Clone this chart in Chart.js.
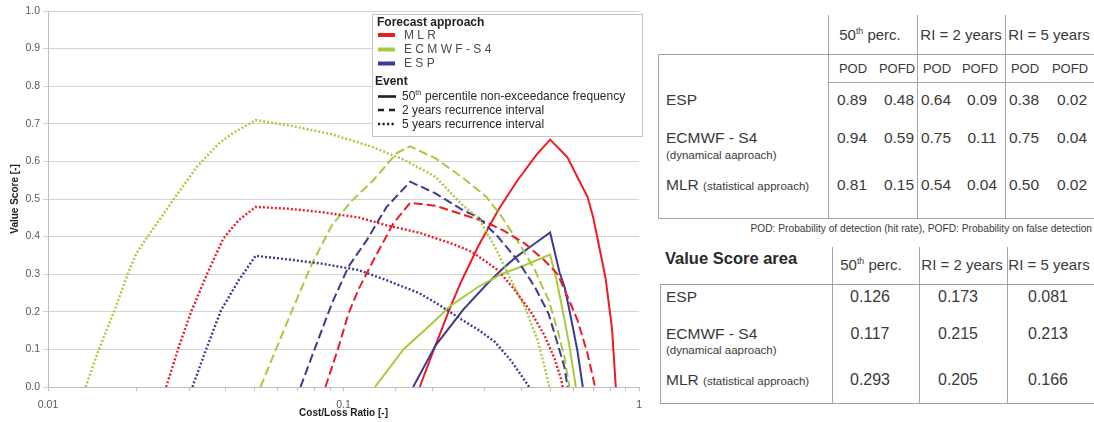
<!DOCTYPE html>
<html>
<head>
<meta charset="utf-8">
<script src="https://cdn.jsdelivr.net/npm/chart.js@4.4.1/dist/chart.umd.min.js"></script>
<style>
  html, body { margin: 0; padding: 0; background: #fff; }
  #wrap { position: relative; width: 1094px; height: 422px; overflow: hidden; background: #fff;
          font-family: "Liberation Sans", Arial, sans-serif; color: #3a3a3a; }
  #chart { position: absolute; left: 0; top: 0; }
  .t { position: absolute; white-space: nowrap; line-height: 1; }
  .hl { position: absolute; height: 0; border-top: 1px solid #a3a3a3; }
  .vl { position: absolute; width: 0; border-left: 1px solid #a3a3a3; }
  sup { font-size: 58%; vertical-align: 0; position: relative; top: -0.65em; }
</style>
</head>
<body>
<div id="wrap"><canvas id="chart" width="650" height="422"></canvas></div>
<script>
// ---- Value score curves (cost/loss ratio -> value score) ----
// 50th percentile non-exceedance frequency
const ratioMLR50   = [0.181, 0.2, 0.229, 0.25, 0.285, 0.3335, 0.388, 0.45, 0.5, 0.55, 0.573, 0.619, 0.669, 0.70, 0.77, 0.81, 0.834];
const valueMLR50   = [0, 0.09, 0.21, 0.28, 0.373, 0.47, 0.55, 0.618, 0.658, 0.625, 0.61, 0.558, 0.506, 0.45, 0.29, 0.155, 0];
const ratioECMWF50 = [0.1277, 0.1594, 0.2, 0.229, 0.285, 0.346, 0.4, 0.45, 0.5, 0.524, 0.551, 0.581, 0.611];
const valueECMWF50 = [0, 0.10, 0.17, 0.215, 0.266, 0.302, 0.32, 0.337, 0.352, 0.29, 0.205, 0.11, 0];
const ratioESP50   = [0.172, 0.2047, 0.2537, 0.304, 0.346, 0.384, 0.45, 0.5, 0.538, 0.56, 0.588, 0.619, 0.645];
const valueESP50   = [0, 0.11, 0.205, 0.272, 0.315, 0.346, 0.385, 0.411, 0.305, 0.265, 0.185, 0.095, 0];

// 2 years recurrence interval
const ratioMLR2   = [0.0868, 0.0962, 0.1039, 0.1124, 0.1262, 0.1474, 0.168, 0.2047, 0.25, 0.3, 0.346, 0.41, 0.478, 0.53, 0.573, 0.619, 0.669, 0.71];
const valueMLR2   = [0, 0.106, 0.195, 0.26, 0.337, 0.435, 0.49, 0.482, 0.46, 0.44, 0.417, 0.382, 0.337, 0.30, 0.24, 0.178, 0.089, 0];
const ratioECMWF2 = [0.0524, 0.0589, 0.067, 0.0782, 0.0913, 0.1066, 0.1262, 0.1512, 0.168, 0.2047, 0.2537, 0.3041, 0.3415, 0.399, 0.444, 0.494, 0.53, 0.559, 0.581];
const valueECMWF2 = [0, 0.098, 0.204, 0.328, 0.43, 0.495, 0.55, 0.622, 0.64, 0.608, 0.556, 0.506, 0.455, 0.373, 0.311, 0.231, 0.151, 0.08, 0];
const ratioESP2   = [0.0715, 0.0803, 0.0913, 0.1039, 0.1197, 0.1399, 0.168, 0.2047, 0.2537, 0.285, 0.3335, 0.388, 0.444, 0.494, 0.53, 0.559, 0.573];
const valueESP2   = [0, 0.106, 0.222, 0.32, 0.39, 0.479, 0.546, 0.515, 0.47, 0.452, 0.399, 0.337, 0.266, 0.195, 0.115, 0.053, 0];

// 5 years recurrence interval
const ratioMLR5   = [0.0251, 0.0278, 0.0305, 0.0345, 0.0392, 0.0442, 0.0505, 0.0653, 0.0845, 0.1124, 0.14, 0.181, 0.235, 0.2706, 0.3041, 0.3335, 0.378, 0.43, 0.478, 0.518, 0.546, 0.551];
const valueMLR5   = [0, 0.11, 0.2, 0.3, 0.395, 0.444, 0.479, 0.474, 0.465, 0.451, 0.43, 0.41, 0.38, 0.36, 0.333, 0.31, 0.26, 0.2, 0.138, 0.075, 0.018, 0];
const ratioECMWF5 = [0.0134, 0.0149, 0.0168, 0.0186, 0.0199, 0.0217, 0.0264, 0.032, 0.0379, 0.042, 0.0504, 0.067, 0.0913, 0.1246, 0.1614, 0.2047, 0.2537, 0.285, 0.325, 0.369, 0.41, 0.454, 0.482, 0.497];
const valueECMWF5 = [0, 0.102, 0.204, 0.3, 0.355, 0.399, 0.495, 0.587, 0.648, 0.674, 0.71, 0.694, 0.672, 0.639, 0.603, 0.559, 0.482, 0.452, 0.373, 0.284, 0.213, 0.124, 0.044, 0];
const ratioESP5   = [0.0308, 0.0342, 0.0385, 0.0442, 0.0504, 0.0653, 0.0845, 0.1124, 0.1399, 0.181, 0.209, 0.25, 0.2885, 0.325, 0.369, 0.40, 0.425];
const valueESP5   = [0, 0.098, 0.204, 0.284, 0.349, 0.339, 0.328, 0.311, 0.284, 0.249, 0.22, 0.18, 0.15, 0.12, 0.07, 0.03, 0];

// ---- Table contents ----
const approaches     = ['ESP', 'ECMWF - S4', 'MLR'];
const approachNotes  = ['', '(dynamical aaproach)', '(statistical approach)'];
const eventHeads     = ['50<sup>th</sup> perc.', 'RI = 2 years', 'RI = 5 years'];
const podValues      = [[0.89, 0.64, 0.38], [0.94, 0.75, 0.75], [0.81, 0.54, 0.50]];
const pofdValues     = [[0.48, 0.09, 0.02], [0.59, 0.11, 0.04], [0.15, 0.04, 0.02]];
const areaValues     = [[0.126, 0.173, 0.081], [0.117, 0.215, 0.213], [0.293, 0.205, 0.166]];

// ---- Legend labels ----
const approachLabels = ['M L R', 'E C M W F - S 4', 'E S P'];
const eventLabels    = ['percentile non-exceedance frequency', '2 years recurrence interval', '5 years recurrence interval'];

const RED = '#ED1C24', GREEN = '#A6CB3A', BLUE = '#3D3A92';
const DASHED = [9, 4], DOTTED = [2, 2];

function curve(label, xs, ys, color, dash, width) {
  return {
    label, borderColor: color, backgroundColor: color, borderDash: dash, borderWidth: width,
    pointRadius: 0, tension: 0, fill: false,
    data: xs.map((x, i) => ({ x, y: ys[i] }))
  };
}

const datasets = [
  curve('ESP 5y',   ratioESP5,   valueESP5,   BLUE,  DOTTED, 2.4),
  curve('MLR 5y',   ratioMLR5,   valueMLR5,   RED,   DOTTED, 2.4),
  curve('ECMWF 5y', ratioECMWF5, valueECMWF5, GREEN, DOTTED, 2.4),
  curve('ESP 2y',   ratioESP2,   valueESP2,   BLUE,  DASHED, 2),
  curve('MLR 2y',   ratioMLR2,   valueMLR2,   RED,   DASHED, 2),
  curve('ECMWF 2y', ratioECMWF2, valueECMWF2, GREEN, DASHED, 2),
  curve('ECMWF 50', ratioECMWF50, valueECMWF50, GREEN, [], 2),
  curve('ESP 50',   ratioESP50,  valueESP50,  BLUE,  [], 2),
  curve('MLR 50',   ratioMLR50,  valueMLR50,  RED,   [], 2)
];

// Custom key box drawn inside the plot area
const keyBox = {
  id: 'keyBox',
  afterDraw(chart) {
    const c = chart.ctx;
    c.save();
    const bx = 372, by = 14, bw = 270, bh = 122;
    c.fillStyle = '#fff';
    c.fillRect(bx, by, bw, bh);
    c.strokeStyle = '#c4c4c4';
    c.lineWidth = 1;
    c.strokeRect(bx + 0.5, by + 0.5, bw, bh);

    c.textBaseline = 'middle';
    c.textAlign = 'left';
    c.fillStyle = '#1e1e1e';
    c.font = 'bold 12px "Liberation Sans", Arial, sans-serif';
    c.fillText('Forecast approach', 377, 22.5);
    c.fillText('Event', 375, 82);

    const colors = [RED, GREEN, BLUE];
    const rowsY = [35, 49.5, 63.5];
    c.font = '12px "Liberation Sans", Arial, sans-serif';
    approachLabels.forEach((lab, i) => {
      c.strokeStyle = colors[i];
      c.lineWidth = 4;
      c.setLineDash([]);
      c.beginPath(); c.moveTo(378, rowsY[i]); c.lineTo(395, rowsY[i]); c.stroke();
      c.fillStyle = '#4a4a4a';
      c.fillText(lab, 404, rowsY[i] + 0.5);
    });

    const evY = [96.5, 110, 124];
    const dashes = [[], [6, 5], [2.2, 2.3]];
    evY.forEach((y, i) => {
      c.strokeStyle = '#1e1e1e';
      c.lineWidth = 2.6;
      c.setLineDash(dashes[i]);
      c.beginPath(); c.moveTo(378, y); c.lineTo(396, y); c.stroke();
    });
    c.setLineDash([]);
    c.fillStyle = '#2a2a2a';
    c.font = '12px "Liberation Sans", Arial, sans-serif';
    let x = 402;
    c.fillText('50', x, evY[0] + 0.5);
    x += c.measureText('50').width;
    c.font = '7px "Liberation Sans", Arial, sans-serif';
    c.fillText('th', x, evY[0] - 3.5);
    x += c.measureText('th').width + 0.5;
    c.font = '12px "Liberation Sans", Arial, sans-serif';
    c.fillText(' ' + eventLabels[0], x, evY[0] + 0.5);
    c.fillText(eventLabels[1], 402, evY[1] + 0.5);
    c.fillText(eventLabels[2], 402, evY[2] + 0.5);
    c.restore();
  }
};

new Chart(document.getElementById('chart'), {
  type: 'line',
  data: { datasets },
  plugins: [keyBox],
  options: {
    responsive: false,
    animation: false,
    events: [],
    layout: { padding: { top: 11, right: 8, left: 0, bottom: 0 } },
    plugins: { legend: { display: false }, tooltip: { enabled: false } },
    scales: {
      x: {
        type: 'logarithmic', min: 0.01, max: 1, position: 'bottom',
        grid: { display: true, drawOnChartArea: false, drawTicks: true, tickLength: 4, color: '#bdbdbd' },
        border: { display: true, color: '#bdbdbd' },
        ticks: {
          autoSkip: false, maxRotation: 0, padding: 8, color: '#595959',
          font: { size: 10.5, family: '"Liberation Sans", Arial, sans-serif' },
          callback(v) {
            const l = Math.log10(v);
            return Math.abs(l - Math.round(l)) < 1e-9 ? String(Math.round(v * 100) / 100) : '';
          }
        },
        title: { display: true, text: 'Cost/Loss Ratio [-]', color: '#1e1e1e',
                 font: { size: 10, weight: 'bold', family: '"Liberation Sans", Arial, sans-serif' },
                 padding: { top: 0, bottom: 3 } },
        afterFit(s) { s.height = 35; }
      },
      y: {
        min: 0, max: 1,
        grid: { color: '#d3d3d3', tickLength: 5, drawTicks: true },
        border: { display: true, color: '#bdbdbd' },
        ticks: { stepSize: 0.1, padding: 3, color: '#595959',
                 font: { size: 10.5, family: '"Liberation Sans", Arial, sans-serif' },
                 callback: v => v.toFixed(1) },
        title: { display: true, text: 'Value Score [-]', color: '#1e1e1e',
                 font: { size: 10, weight: 'bold', family: '"Liberation Sans", Arial, sans-serif' },
                 padding: { top: 9, bottom: 0 } },
        afterFit(s) { s.width = 48; }
      }
    }
  }
});

// ---- Tables at the right ----
const wrap = document.getElementById('wrap');
function put(html, x, y, size, align, extra) {
  const el = document.createElement('span');
  el.className = 't';
  el.innerHTML = html;
  el.style.left = x + 'px';
  el.style.top = y + 'px';
  el.style.fontSize = size + 'px';
  el.style.transform = align === 'c' ? 'translate(-50%,-50%)' : align === 'r' ? 'translate(-100%,-50%)' : 'translate(0,-50%)';
  if (extra) Object.assign(el.style, extra);
  wrap.appendChild(el);
  return el;
}
function hline(x1, x2, y) {
  const d = document.createElement('div'); d.className = 'hl';
  d.style.left = x1 + 'px'; d.style.top = y + 'px'; d.style.width = (x2 - x1) + 'px';
  wrap.appendChild(d);
}
function vline(x, y1, y2) {
  const d = document.createElement('div'); d.className = 'vl';
  d.style.left = x + 'px'; d.style.top = y1 + 'px'; d.style.height = (y2 - y1) + 'px';
  wrap.appendChild(d);
}

// Skill score table (POD / POFD)
[828, 917, 1005].forEach(x => vline(x, 15, 218));
vline(658, 54, 218);
hline(658, 1094, 54);
hline(828, 1094, 82);
hline(658, 1094, 218);
const headX1 = [870, 961, 1049];
const subX = [[853, 897], [937, 980], [1025, 1070]];
eventHeads.forEach((h, j) => {
  put(h, headX1[j], 34, 15, 'c');
  put('POD', subX[j][0], 68, 13, 'c');
  put('POFD', subX[j][1], 68, 13, 'c');
});
const rowY1 = [100, 138, 185];
approaches.forEach((a, i) => {
  if (i === 2) {
    put(a + ' <span style="font-size:11.5px">' + approachNotes[i] + '</span>', 666, rowY1[i], 15.5, 'l');
  } else {
    put(a, 666, rowY1[i], 15.5, 'l');
    if (approachNotes[i]) put(approachNotes[i], 666, rowY1[i] + 18, 11.5, 'l');
  }
  for (let j = 0; j < 3; j++) {
    put(podValues[i][j].toFixed(2), subX[j][0] - 1, rowY1[i], 15.5, 'c');
    put(pofdValues[i][j].toFixed(2), subX[j][1] + 2, rowY1[i], 15.5, 'c');
  }
});
put('POD: Probability of detection (hit rate), POFD: Probability on false detection', 1092, 229, 10.2, 'r');

// Value score area table
[832, 919, 1007].forEach(x => vline(x, 247, 403));
vline(660, 284, 403);
hline(660, 1094, 284);
hline(660, 1094, 403);
put('Value Score area', 665, 258, 16.5, 'l', { fontWeight: 'bold', color: '#2a2a2a' });
const headX2 = [871, 962, 1049];
eventHeads.forEach((h, j) => put(h, headX2[j], 264, 15, 'c'));
const rowY2 = [297, 334, 380];
const valX2 = [870, 958, 1048];
approaches.forEach((a, i) => {
  if (i === 2) {
    put(a + ' <span style="font-size:11.5px">' + approachNotes[i] + '</span>', 666, rowY2[i], 15.5, 'l');
  } else {
    put(a, 666, rowY2[i], 15.5, 'l');
    if (approachNotes[i]) put(approachNotes[i], 666, rowY2[i] + 17, 11.5, 'l');
  }
  for (let j = 0; j < 3; j++) put(areaValues[i][j].toFixed(3), valX2[j], rowY2[i], 16, 'c');
});
</script>
</body>
</html>
